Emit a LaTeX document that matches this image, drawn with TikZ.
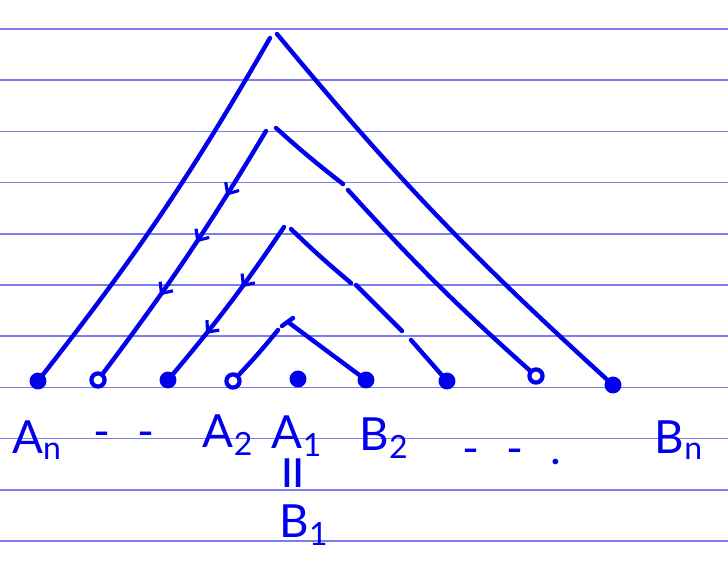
\documentclass[tikz,border=0pt]{standalone}
\usepackage{fontspec}
\setmainfont{Lato}
\usetikzlibrary{arrows.meta,decorations.markings}
\definecolor{inkblue}{RGB}{0,0,235}
\definecolor{ruleblue}{RGB}{125,125,240}
\begin{document}
\begin{tikzpicture}[
        x=0.02cm, y=-0.02cm,
        every node/.style={font=\fontsize{26}{30}\selectfont, text=inkblue},
        ink/.style={draw=inkblue, line width=2.5pt, line cap=round},
        rule/.style={draw=ruleblue, line width=0.9pt},
        dotfull/.style={circle, draw=inkblue, fill=inkblue, line width=1.6pt,
            inner sep=0pt, minimum size=8pt},
        dotopen/.style={circle, draw=inkblue, fill=white, line width=2.4pt,
            inner sep=0pt, minimum size=7.5pt},
        barb/.style={postaction={decorate, decoration={markings,
                    mark=at position #1 with {\arrow[inkblue, line width=1.8pt]{Straight Barb[length=5pt, width=9pt]}}}}}
      ]
      \useasboundingbox (0,0) rectangle (728,563);

      % lined paper
      \foreach \i in {0,...,10}{
          \draw[rule] (0,29+51.2*\i) -- (728,29+51.2*\i);
        }

      % points on the base line
      \node[dotfull] (an) at (38,381)  {};
      \node[dotopen] (a3) at (98,380)  {};
      \node[dotfull] (a2) at (168,380) {};
      \node[dotopen] (a1) at (233,381) {};
      \node[dotfull] (m)  at (298,379) {};
      \node[dotfull] (b1) at (366,380) {};
      \node[dotfull] (b2) at (447,381) {};
      \node[dotopen] (b3) at (536,376) {};
      \node[dotfull] (bn) at (613,385) {};

      % tops of the arches
      \coordinate (topL4) at (270,38);  \coordinate (topR4) at (277,34);
      \coordinate (topL3) at (266,131); \coordinate (topR3) at (276,128);
      \coordinate (topL2) at (284,227); \coordinate (topR2) at (291,229);
      \coordinate (topL1) at (278,330); \coordinate (topR1) at (288,322);

      % pen breaks on the right branches
      \coordinate (brk3a) at (343,184); \coordinate (brk3b) at (348,190);
      \coordinate (brk2a) at (351,283); \coordinate (brk2b) at (356,285);
      \coordinate (brk2c) at (402,331); \coordinate (brk2d) at (411,340);

      % outer arch
      \draw[ink] (topL4) to[bend left=4] (an);
      \draw[ink] (topR4) to[bend right=4] (bn);

      % second arch
      \draw[ink, barb=0.26, barb=0.45, barb=0.67] (topL3) to[bend left=3] (a3);
      \draw[ink] (topR3) to[bend right=2] (brk3a);
      \draw[ink] (brk3b) to[bend right=3] (b3);

      % third arch
      \draw[ink, barb=0.40, barb=0.72] (topL2) to[bend left=3] (a2);
      \draw[ink] (topR2) to[bend right=2] (brk2a);
      \draw[ink] (brk2b) -- (brk2c);
      \draw[ink] (brk2d) -- (b2);

      % inner arch
      \draw[ink] (topL1) to[bend left=2] (a1);
      \draw[ink] (topR1) -- (b1);
      \draw[ink] ([shift={(-6,4)}]topR1) -- ([shift={(5,-4)}]topR1);

      % labels
      \node (lan) at (37,440)  {A\textsubscript{n}};
      \node (ldl) at (124,440) {-\,\, -};
      \node (la2) at (228,435) {A\textsubscript{2}};
      \node (la1) at (297,436) {A\textsubscript{1}};
      \node[rotate=90, font=\fontsize{38}{40}\selectfont] (leq) at (300,473) {=};
      \node (lb1) at (304,525) {B\textsubscript{1}};
      \node (lb2) at (384,438) {B\textsubscript{2}};
      \node (ldr) at (512,457) {-\,\, -\,\, .};
      \node (lbn) at (679,440) {B\textsubscript{n}};
    \end{tikzpicture}
\end{document}
